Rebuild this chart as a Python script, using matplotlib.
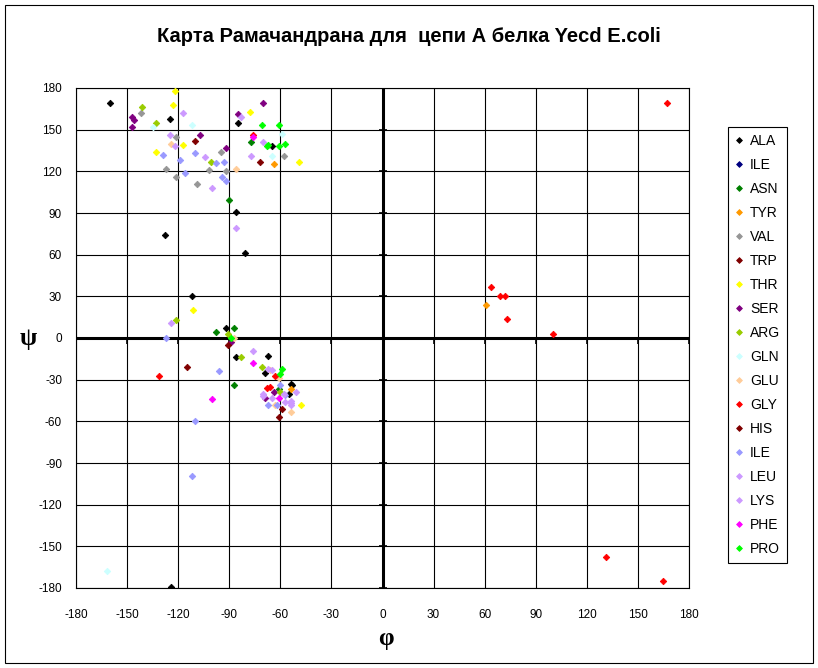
import numpy as np
import matplotlib
matplotlib.use('Agg')
import matplotlib.pyplot as plt
from matplotlib.patches import Rectangle

plt.rcParams['font.family'] = ['Liberation Sans', 'DejaVu Sans']
plt.rcParams['axes.unicode_minus'] = False

# (phi, psi) pairs, one list per residue type
ala = [(-160, 169), (-125, 158), (-85, 155), (-65, 138), (-86, 91), (-128, 74),
       (-81, 61), (-112, 30), (-92, 7), (-67, -13), (-86, -14), (-69, -25),
       (-54, -33), (-53, -34), (-55, -40), (-124, -179)]
ile1 = []
asn = [(-77, 141), (-90, 99), (-98, 4), (-87, 7), (-87, -34), (-61, -37)]
tyr = [(-64, 125), (61, 24), (-54, -37)]
val = [(-142, 162), (-121, 145), (-95, 134), (-127, 122), (-102, 121),
       (-92, 120), (-121, 116), (-109, 111), (-58, 131)]
trp = [(-110, 142), (-72, 127)]
thr = [(-122, 178), (-123, 168), (-78, 163), (-117, 139), (-133, 134),
       (-49, 127), (-111, 20), (-48, -48)]
ser = [(-147, 159), (-146, 157), (-147, 152), (-70, 169), (-85, 161),
       (-107, 146), (-92, 137), (-89, -3), (-64, -39), (-69, -43)]
arg = [(-141, 166), (-133, 155), (-101, 127), (-121, 13), (-91, 3),
       (-83, -14), (-71, -21), (-60, -39)]
gln = [(-135, 152), (-112, 153), (-59, 147), (-65, 131), (-162, -168)]
glu = [(-124, 140), (-86, 122), (-87, 0), (-66, -23), (-61, -29),
       (-63, -48), (-54, -53)]
gly = [(-76, 146), (167, 169), (64, 37), (69, 30), (72, 30), (73, 14),
       (100, 3), (131, -158), (165, -175), (-131, -27), (-63, -27),
       (-68, -36), (-66, -35)]
his = [(-115, -21), (-91, -5), (-59, -51), (-61, -57)]
ile2 = [(-129, 132), (-110, 133), (-98, 126), (-93, 127), (-119, 128),
        (-116, 119), (-94, 116), (-92, 113), (-127, 0), (-96, -24),
        (-110, -60), (-112, -99), (-60, -34), (-57, -41), (-67, -48),
        (-62, -48)]
leu = [(-117, 162), (-83, 159), (-125, 146), (-122, 138), (-104, 130),
       (-100, 108), (-86, 79), (-124, 11), (-76, -9), (-67, -22),
       (-70, -42), (-51, -39), (-54, -48)]
lys = [(-77, 131), (-70, 141), (-65, -23), (-58, -40), (-54, -45),
       (-57, -46), (-65, -43), (-70, -40), (-54, -47)]
phe = [(-76, 145), (-76, -18), (-100, -44), (-61, -43)]
pro = [(-71, 153), (-61, 153), (-68, 138), (-67, 139), (-61, 138),
       (-57, 140), (-89, 0), (-59, -22), (-60, -26)]

names = ['ALA', 'ILE', 'ASN', 'TYR', 'VAL', 'TRP', 'THR', 'SER', 'ARG',
         'GLN', 'GLU', 'GLY', 'HIS', 'ILE', 'LEU', 'LYS', 'PHE', 'PRO']
series = [ala, ile1, asn, tyr, val, trp, thr, ser, arg,
          gln, glu, gly, his, ile2, leu, lys, phe, pro]
colors = ['#000000', '#000080', '#008000', '#FF9900', '#969696', '#800000',
          '#FFFF00', '#800080', '#99CC00', '#CCFFFF', '#FFCC99', '#FF0000',
          '#800000', '#9999FF', '#CC99FF', '#CC99FF', '#FF00FF', '#00FF00']

ticks = np.arange(-180, 181, 30)

fig = plt.figure(figsize=(8.18, 6.68), dpi=100)
ax = fig.add_axes([76 / 818, 1 - 588 / 668, 613 / 818, 500 / 668])

for name, pts, col in zip(names, series, colors):
    if pts:
        phi, psi = zip(*pts)
    else:
        phi, psi = [], []
    ax.plot(phi, psi, 'D', ms=3.3, color=col, mec=col, mew=0.6,
            ls='none', label=name, zorder=5)

ax.set_xlim(-180, 180)
ax.set_ylim(-180, 180)
ax.set_xticks(ticks)
ax.set_yticks(ticks)
ax.grid(True, color='black', lw=0.8)
ax.set_axisbelow(True)
for sp in ax.spines.values():
    sp.set_linewidth(0.8)
ax.tick_params(length=0, labelsize=8.5)
ax.tick_params(axis='x', pad=15)
ax.tick_params(axis='y', pad=10)

# thick zero axes with small tick marks, as in the original
ax.axhline(0, color='black', lw=2.2, zorder=3)
ax.axvline(0, color='black', lw=2.2, zorder=3)
ax.plot(ticks, np.zeros(len(ticks)), ls='none', marker=3, ms=4,
        color='black', mew=1.2, zorder=3)
ax.plot(np.zeros(len(ticks)), ticks, ls='none', marker='_', ms=6,
        color='black', mew=1.2, zorder=3)

fig.text(0.5, 1 - 37 / 668, 'Карта Рамачандрана для  цепи А белка Yecd E.coli',
         ha='center', va='center', fontsize=14.5, fontweight='bold')
fig.text(28 / 818, 1 - 338 / 668, 'ψ', ha='center', va='center',
         fontsize=18, fontweight='bold', family='Liberation Serif')
fig.text(386 / 818, 1 - 639 / 668, 'φ', ha='center', va='center',
         fontsize=18, fontweight='bold', family='Liberation Serif')

leg = fig.legend(loc='upper left', bbox_to_anchor=(728 / 818, 1 - 127 / 668),
                 fontsize=10, frameon=True, fancybox=False, edgecolor='black',
                 framealpha=1, borderpad=0.5, labelspacing=0.72,
                 handlelength=0.6, handletextpad=0.5, borderaxespad=0,
                 markerscale=0.9)
leg.get_frame().set_linewidth(0.8)

fig.patches.append(Rectangle((5 / 818, 5 / 668), 808 / 818, 658 / 668,
                             transform=fig.transFigure, fill=False,
                             edgecolor='black', lw=0.8))

fig.savefig('out.png', dpi=100)
